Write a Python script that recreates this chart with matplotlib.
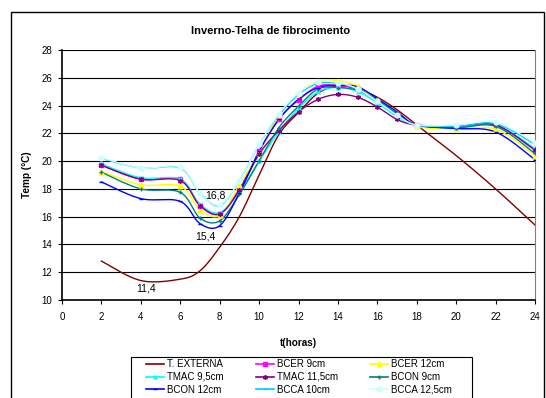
import numpy as np
import matplotlib
matplotlib.use('Agg')
import matplotlib.pyplot as plt
from matplotlib.lines import Line2D
from matplotlib.patches import Rectangle

plt.rcParams['font.family'] = ['Liberation Sans', 'DejaVu Sans']

# hours of measurement
hours = [2, 4, 6, 7, 8, 9, 10, 11, 12, 13, 14, 15, 16, 17, 18, 20, 22, 24]

# temperatures (deg C)
t_externa = [12.8, 11.4, 11.5, 12.1, 13.8, 16.0, 19.0, 21.9, 23.5, 24.9, 25.4, 25.2, 24.6, 23.7, 22.6, 20.4, 18.0, 15.4]
bcer_9 = [19.7, 18.7, 18.7, 16.8, 16.2, 18.0, 20.7, 23.0, 24.4, 25.4, 25.45, 25.2, 24.3, 23.3, 22.6, 22.5, 22.6, 20.8]
bcer_12 = [19.25, 18.3, 18.2, 16.5, 16.1, 18.3, 20.6, 23.3, 24.9, 25.75, 25.8, 25.4, 24.4, 23.4, 22.5, 22.3, 22.3, 20.4]
tmac_95 = [19.8, 18.8, 18.7, 16.9, 16.3, 17.8, 20.0, 22.1, 23.8, 25.0, 25.3, 25.0, 24.2, 23.2, 22.6, 22.4, 22.6, 20.9]
tmac_115 = [19.7, 18.7, 18.6, 16.8, 16.2, 17.9, 20.5, 22.2, 23.55, 24.45, 24.8, 24.6, 23.9, 23.0, 22.6, 22.5, 22.6, 20.8]
bcon_9 = [19.2, 18.0, 17.75, 15.9, 15.7, 17.6, 20.0, 22.4, 23.95, 25.2, 25.3, 25.1, 24.4, 23.4, 22.6, 22.4, 22.5, 20.55]
bcon_12 = [18.5, 17.3, 17.1, 15.5, 15.35, 17.7, 20.7, 23.0, 24.45, 25.3, 25.45, 25.35, 24.5, 23.55, 22.6, 22.35, 22.1, 20.1]
bcca_10 = [20.2, 19.5, 19.5, 17.7, 16.8, 18.6, 21.2, 23.3, 24.8, 25.6, 25.6, 25.2, 24.3, 23.3, 22.6, 22.5, 22.7, 21.2]
bcca_125 = [20.25, 19.5, 19.55, 17.7, 16.85, 18.6, 21.2, 23.4, 24.9, 25.7, 25.65, 25.2, 24.3, 23.3, 22.6, 22.6, 22.8, 21.3]

labels = ['T. EXTERNA', 'BCER 9cm', 'BCER 12cm', 'TMAC 9,5cm', 'TMAC 11,5cm',
          'BCON 9cm', 'BCON 12cm', 'BCCA 10cm', 'BCCA 12,5cm']
colors = ['#800000', '#FF00FF', '#FFFF00', '#00FFFF', '#800080',
          '#008080', '#0000FF', '#00CCFF', '#CCFFFF']
markers = [None, 's', '^', 'x', (6, 2, 0), '+', '_', '_', 'o']

y_ticks = [10, 12, 14, 16, 18, 20, 22, 24, 26, 28]
x_ticks = [0, 2, 4, 6, 8, 10, 12, 14, 16, 18, 20, 22, 24]


def smooth(x, y, n=20):
    # excel style smoothed line (bezier through the points)
    pts = np.column_stack([x, y]).astype(float)
    P = np.vstack([pts[0], pts, pts[-1]])
    out = []
    t = np.linspace(0, 1, n, endpoint=False)[:, None]
    for i in range(1, len(P) - 2):
        p0, p1, p2, p3 = P[i - 1], P[i], P[i + 1], P[i + 2]
        c1 = p1 + (p2 - p0) / 6
        c2 = p2 - (p3 - p1) / 6
        out.append((1 - t) ** 3 * p1 + 3 * (1 - t) ** 2 * t * c1 + 3 * (1 - t) * t ** 2 * c2 + t ** 3 * p2)
    out.append(pts[-1:])
    s = np.vstack(out)
    return s[:, 0], s[:, 1]


fig = plt.figure(figsize=(5.46, 3.98), dpi=100)
ax = fig.add_axes([62 / 546, 1 - 300 / 398, (535 - 62) / 546, 250 / 398])

# outer chart border
fig.patches.append(Rectangle((11 / 546, -0.05), 533 / 546, 1 - 12 / 398 + 0.05,
                             transform=fig.transFigure, fill=False,
                             edgecolor='black', linewidth=1.0))

series = [t_externa, bcer_9, bcer_12, tmac_95, tmac_115, bcon_9, bcon_12, bcca_10, bcca_125]
handles = []
for vals, lab, col, mk in zip(series, labels, colors, markers):
    sx, sy = smooth(hours, vals)
    ax.plot(sx, sy, color=col, linewidth=1.0, zorder=3)
    if mk is not None:
        ax.plot(hours, vals, linestyle='none', marker=mk, color=col,
                markersize=3.5, markeredgewidth=1.0, zorder=4)
    handles.append(Line2D([], [], color=col, linewidth=1.2, marker=mk,
                          markersize=3.5, markeredgewidth=1.0))

ax.text(7.77, 17.55, '16,8', fontsize=7.5, ha='center', va='center')
ax.text(7.26, 14.6, '15,4', fontsize=7.5, ha='center', va='center')
ax.text(4.26, 10.8, '11,4', fontsize=7.5, ha='center', va='center')

ax.set_xlim(0, 24)
ax.set_ylim(10, 28)
ax.set_xticks(x_ticks)
ax.set_yticks(y_ticks)
ax.grid(axis='y', color='black', linewidth=0.8)
ax.set_axisbelow(True)
ax.tick_params(labelsize=7, length=3, width=0.8, pad=4, direction='out')
ax.tick_params(axis='x', pad=6)

for side in ['left', 'bottom']:
    ax.spines[side].set_linewidth(1.2)
ax.spines['top'].set_visible(False)
ax.spines['right'].set_color('#808080')

ax.set_xlabel('t(horas)', fontsize=7.2, fontweight='bold')
ax.set_ylabel('Temp (°C)', fontsize=7.2, fontweight='bold')
ax.xaxis.set_label_coords(0.5, -0.15)
ax.yaxis.set_label_coords(-0.064, 0.5)

fig.text(0.496, 1 - 31 / 398, 'Inverno-Telha de fibrocimento', fontsize=8,
         fontweight='bold', ha='center', va='center')

# legend box drawn by hand, entries laid out row by row like excel
fig.patches.append(Rectangle((131 / 546, -0.02), (472 - 131) / 546, 1 - 357 / 398 + 0.02,
                             transform=fig.transFigure, fill=False,
                             edgecolor='black', linewidth=0.8))
order = [0, 3, 6, 1, 4, 7, 2, 5, 8]
leg = fig.legend([handles[i] for i in order], [labels[i] for i in order], ncol=3,
                 loc='upper left', bbox_to_anchor=(146 / 546, 1 - 359 / 398),
                 fontsize=7, frameon=False, handlelength=1.85,
                 handletextpad=0.3, columnspacing=3.3, labelspacing=0.3,
                 borderpad=0, borderaxespad=0)

fig.savefig('out.png', dpi=100)
